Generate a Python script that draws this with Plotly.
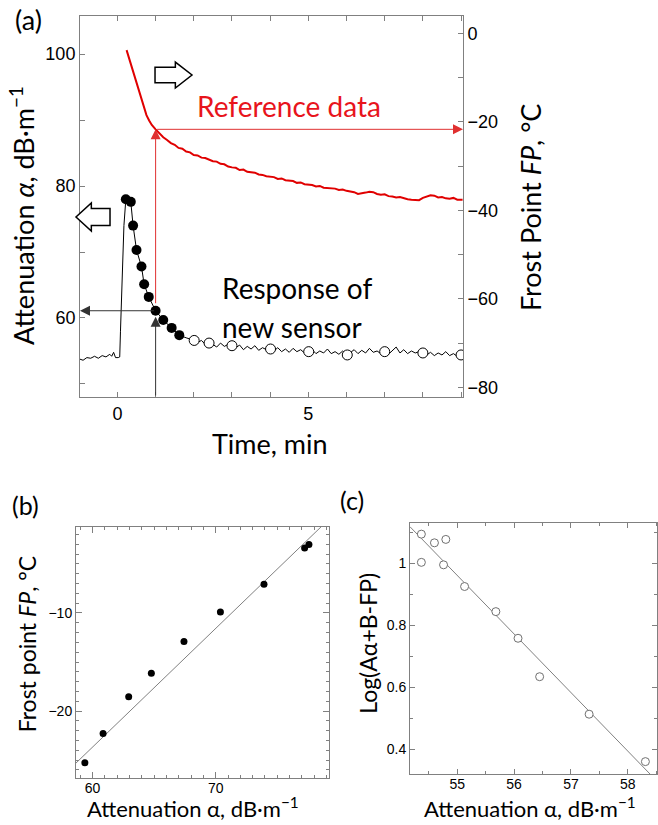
import plotly.graph_objects as go

# ---- (a) response of the new sensor vs reference, over time ----
t_ref = [0.24, 0.30, 0.37, 0.44, 0.50, 0.57, 0.63, 0.70, 0.76, 0.83, 0.90, 1.00,
         1.10, 1.20, 1.30, 1.40, 1.50, 1.60, 1.70, 1.80, 1.90, 2.00, 2.10, 2.20,
         2.30, 2.40, 2.50, 2.60, 2.70, 2.80, 2.90, 3.00, 3.10, 3.20, 3.30, 3.40,
         3.50, 3.60, 3.70, 3.80, 3.90, 4.00, 4.10, 4.20, 4.30, 4.40, 4.50, 4.60,
         4.70, 4.80, 4.90, 5.00, 5.10, 5.20, 5.30, 5.40, 5.50, 5.60, 5.70, 5.80,
         5.90, 6.00, 6.10, 6.20, 6.30, 6.40, 6.50, 6.60, 6.70, 6.80, 6.90, 7.00,
         7.10, 7.20, 7.30, 7.40, 7.50, 7.60, 7.70, 7.80, 7.90, 8.00, 8.10, 8.20,
         8.30, 8.40, 8.50, 8.60, 8.70, 8.80, 8.90, 9.00, 9.04]
fp_ref = [-3.8, -5.5, -7.5, -9.6, -11.3, -13.2, -15.1, -16.9, -18.5, -19.7, -20.7, -21.7,
          -22.6, -23.5, -24.1, -24.8, -25.2, -25.9, -26.1, -26.7, -26.9, -27.5, -27.6, -28.1,
          -28.2, -28.6, -28.9, -29.0, -29.5, -29.6, -30.1, -30.3, -30.4, -30.9, -30.8, -31.3,
          -31.4, -31.5, -31.9, -32.0, -32.3, -32.4, -32.5, -32.9, -32.8, -33.2, -33.3, -33.4,
          -33.8, -33.7, -34.1, -34.2, -34.3, -34.6, -34.5, -34.9, -35.0, -35.0, -35.1, -35.4,
          -35.3, -35.6, -35.8, -35.9, -36.3, -36.2, -36.0, -35.8, -35.9, -36.3, -36.5, -36.4,
          -36.8, -36.9, -37.1, -37.0, -37.3, -37.5, -37.6, -37.7, -37.7, -37.2, -36.9, -36.6,
          -36.7, -37.1, -37.0, -37.3, -37.4, -37.2, -37.6, -37.5, -37.6]

t_att = [-1.00, -0.90, -0.80, -0.70, -0.60, -0.50, -0.40, -0.30, -0.20, -0.15, -0.10, -0.05,
         0.02, 0.06, 0.08, 0.12, 0.17, 0.22, 0.30, 0.35, 0.41, 0.50, 0.63, 0.70, 0.82,
         1.00, 1.20, 1.42, 1.62, 1.80, 2.01, 2.10, 2.20, 2.30, 2.40, 2.50, 2.60, 2.70,
         2.80, 2.90, 3.00, 3.10, 3.20, 3.30, 3.40, 3.50, 3.60, 3.70, 3.80, 3.90, 4.01,
         4.10, 4.20, 4.30, 4.40, 4.50, 4.60, 4.70, 4.80, 4.90, 5.01, 5.10, 5.20, 5.30,
         5.40, 5.50, 5.60, 5.70, 5.80, 5.90, 6.02, 6.10, 6.20, 6.30, 6.40, 6.50, 6.60,
         6.70, 6.80, 6.90, 7.00, 7.10, 7.20, 7.30, 7.40, 7.50, 7.60, 7.70, 7.80, 7.90,
         8.00, 8.10, 8.20, 8.30, 8.40, 8.50, 8.60, 8.70, 8.80, 8.90, 9.00]
att = [53.8, 53.6, 54.0, 53.9, 54.2, 53.9, 54.3, 54.1, 54.5, 54.2, 54.8, 54.0,
       54.0, 54.1, 58.0, 66.0, 74.0, 78.0, 77.8, 77.6, 74.0, 70.3, 67.8, 65.1, 63.2,
       61.1, 59.7, 58.5, 57.4, 57.0, 56.6, 56.3, 56.6, 56.0, 56.2, 56.0, 55.6, 56.2,
       55.7, 56.0, 55.8, 55.5, 55.9, 55.2, 55.7, 55.3, 55.8, 55.1, 55.5, 55.2, 55.3,
       55.0, 55.5, 54.9, 55.3, 54.8, 55.4, 54.9, 55.2, 54.7, 54.9, 55.2, 54.6, 55.0,
       54.7, 55.3, 54.6, 54.9, 54.5, 55.0, 54.4, 54.8, 55.2, 54.6, 55.1, 54.7, 55.4,
       54.8, 55.0, 54.6, 54.9, 54.5, 55.1, 55.6, 54.7, 55.2, 54.6, 55.0, 54.7, 54.9,
       54.7, 54.4, 54.8, 54.3, 54.7, 54.4, 54.9, 54.3, 54.6, 54.2, 54.4]

t_fill = [0.22, 0.35, 0.41, 0.50, 0.63, 0.70, 0.82, 1.00, 1.20, 1.42, 1.62]
att_fill = [78.0, 77.6, 74.0, 70.3, 67.8, 65.1, 63.2, 61.1, 59.7, 58.5, 57.4]
t_open = [2.01, 2.40, 3.00, 4.01, 5.01, 6.02, 7.00, 8.00, 9.00]
att_open = [56.6, 56.2, 55.8, 55.3, 54.9, 54.4, 54.9, 54.7, 54.4]

t_probe = 1.0

# ---- (b) calibration ----
att_b = [59.37, 60.85, 62.93, 64.77, 67.42, 70.38, 73.92, 77.22, 77.57]
fp_b = [-25.27, -22.3, -18.53, -16.15, -12.92, -9.9, -7.07, -3.37, -3.02]
fit_b = (1.21, -96.27)   # slope, intercept

# ---- (c) log plot ----
att_c = [54.37, 54.37, 54.60, 54.80, 54.76, 55.13, 55.68, 56.07, 56.45, 57.32, 58.31]
log_c = [1.094, 1.003, 1.066, 1.077, 0.995, 0.925, 0.844, 0.758, 0.634, 0.513, 0.360]
fit_c = (-0.189, 11.356)
c_ticks = [0.4, 0.6, 0.8, 1.0]
c_ticktext = ['0.4', '0.6', '0.8', '1']

# axis ranges
XA = [-0.98, 9.05]
YA = [48.03, 105.76]
YA2 = [-82.19, 3.91]
XB = [58.65, 79.2]
YB = [-26.8, -1.2]
XC = [54.17, 58.52]
YC = [0.32, 1.129]

W, H = 658, 825
GRAY = '#808080'
TICKFONT = 'Liberation Sans'
TEXTFONT = 'Lato'


def fp_of(a):
    return YA2[0] + (a - YA[0]) * (YA2[1] - YA2[0]) / (YA[1] - YA[0])


alpha_probe = att_fill[t_fill.index(t_probe)]
fp_probe = fp_ref[t_ref.index(t_probe)]

fig = go.Figure()

fig.add_trace(go.Scatter(x=t_ref, y=fp_ref, mode='lines', yaxis='y2',
                         line=dict(color='#e00000', width=2)))
fig.add_trace(go.Scatter(x=t_att, y=att, mode='lines',
                         line=dict(color='black', width=1)))
fig.add_trace(go.Scatter(x=t_fill, y=att_fill, mode='markers',
                         marker=dict(color='black', size=10)))
fig.add_trace(go.Scatter(x=t_open, y=att_open, mode='markers',
                         marker=dict(color='white', size=10, line=dict(color='black', width=1))))

fig.add_trace(go.Scatter(x=XB, y=[fit_b[0] * v + fit_b[1] for v in XB], mode='lines',
                         xaxis='x2', yaxis='y3', line=dict(color=GRAY, width=1)))
fig.add_trace(go.Scatter(x=att_b, y=fp_b, mode='markers', xaxis='x2', yaxis='y3',
                         marker=dict(color='black', size=7)))

fig.add_trace(go.Scatter(x=XC, y=[fit_c[0] * v + fit_c[1] for v in XC], mode='lines',
                         xaxis='x3', yaxis='y4', line=dict(color=GRAY, width=1)))
fig.add_trace(go.Scatter(x=att_c, y=log_c, mode='markers', xaxis='x3', yaxis='y4',
                         marker=dict(color='white', size=8, line=dict(color='#707070', width=1))))


def ax(domain, rng, anchor, tickvals, minor, ticklen=5, minorlen=5, fsize=18, **kw):
    d = dict(domain=domain, range=rng, anchor=anchor, showgrid=False, zeroline=False,
             showline=True, linecolor=GRAY, linewidth=1, ticks='inside', ticklen=ticklen,
             tickcolor=GRAY, tickvals=tickvals,
             minor=dict(dtick=minor, ticks='inside', ticklen=minorlen, tickcolor=GRAY),
             tickfont=dict(family=TICKFONT, size=fsize, color='black'))
    d.update(kw)
    return d


fig.update_layout(
    width=W, height=H, margin=dict(l=0, r=0, t=0, b=0),
    paper_bgcolor='white', plot_bgcolor='white', showlegend=False,
    xaxis=ax([0.1216, 0.7036], XA, 'y', [0, 5], 1, mirror='ticks'),
    yaxis=ax([0.5188, 0.9806], YA, 'x', [60, 80, 100], 10),
    yaxis2=ax([0.5188, 0.9806], YA2, 'x', [0, -20, -40, -60, -80], 10,
              overlaying='y', side='right'),
    xaxis2=ax([0.1155, 0.5], XB, 'y3', [60, 70], 1, ticklen=6, minorlen=3, fsize=14,
              mirror='ticks', ticklabelstandoff=-3),
    yaxis3=ax([0.0573, 0.3616], YB, 'x2', [-10, -20], 1, ticklen=6, minorlen=3, fsize=14,
              mirror='ticks'),
    xaxis3=ax([0.6231, 0.999], XC, 'y4', [55, 56, 57, 58], 0.5, ticklen=5, minorlen=3,
              fsize=14, mirror='ticks', ticklabelstandoff=-3),
    yaxis4=ax([0.0618, 0.3657], YC, 'x3', c_ticks, 0.1, ticklen=5, minorlen=3,
              fsize=14, mirror='ticks', ticktext=c_ticktext),
)

ann = []
# probe arrows in (a)
arrow = dict(text='', showarrow=True, arrowhead=2, arrowsize=2, arrowwidth=1,
             axref='x', xref='x')
ann.append(dict(arrow, x=t_probe, y=alpha_probe, yref='y', ax=t_probe, ay=YA[0],
                ayref='y', arrowcolor='#333333', standoff=6))
ann.append(dict(arrow, x=XA[0], y=alpha_probe, yref='y', ax=t_probe, ay=alpha_probe,
                ayref='y', arrowcolor='#333333'))
ann.append(dict(arrow, x=t_probe, y=fp_probe, yref='y2', ax=t_probe, ay=fp_of(alpha_probe),
                ayref='y2', arrowcolor='#e03030', startstandoff=6))
ann.append(dict(arrow, x=XA[1], y=fp_probe, yref='y2', ax=t_probe, ay=fp_probe,
                ayref='y2', arrowcolor='#e03030'))

# texts in (a)
ann.append(dict(x=2.03, y=-16.4, xref='x', yref='y2', text='Reference data', showarrow=False,
                xanchor='left', yanchor='middle',
                font=dict(family=TEXTFONT, size=28, color='#e8141c')))
ann.append(dict(x=2.68, y=64.55, xref='x', yref='y', text='Response of', showarrow=False,
                xanchor='left', yanchor='middle', font=dict(family=TEXTFONT, size=28, color='black')))
ann.append(dict(x=2.68, y=58.64, xref='x', yref='y', text='new sensor', showarrow=False,
                xanchor='left', yanchor='middle', font=dict(family=TEXTFONT, size=28, color='black')))


# hollow block arrows telling which axis each curve uses (pixel box -> paper path)
def block_arrow(x0, x1, yc, h, direction):
    L = x1 - x0
    head = 0.45 * L
    th = 0.3 * h
    if direction == 'right':
        pts = [(x0, yc - th), (x1 - head, yc - th), (x1 - head, yc - h / 2), (x1, yc),
               (x1 - head, yc + h / 2), (x1 - head, yc + th), (x0, yc + th)]
    else:
        pts = [(x1, yc - th), (x0 + head, yc - th), (x0 + head, yc - h / 2), (x0, yc),
               (x0 + head, yc + h / 2), (x0 + head, yc + th), (x1, yc + th)]
    path = 'M ' + ' L '.join('%.4f,%.4f' % (px / W, 1 - py / H) for px, py in pts) + ' Z'
    return dict(type='path', xref='paper', yref='paper', path=path,
                fillcolor='white', line=dict(color='black', width=1.5), layer='above')


fig.update_layout(shapes=[block_arrow(155, 192, 75, 26, 'right'),
                          block_arrow(76, 110, 217, 28, 'left')])


# panel labels and axis titles
def ptext(x, y, text, size, angle=0):
    return dict(x=x, y=y, xref='paper', yref='paper', text=text, showarrow=False,
                textangle=angle, xanchor='center', yanchor='middle',
                font=dict(family=TEXTFONT, size=size, color='black'))


ann += [
    ptext(0.044, 0.9758, '(a)', 27),
    ptext(0.038, 0.388, '(b)', 25),
    ptext(0.535, 0.394, '(c)', 25),
    ptext(0.0334, 0.7394, 'Attenuation <i>α</i>, dB·m<sup>−1</sup>', 27, -90),
    ptext(0.8055, 0.749, 'Frost Point <i>FP</i>, °C', 27, -90),
    ptext(0.410, 0.463, 'Time, min', 27),
    ptext(0.041, 0.219, 'Frost point <i>FP</i>, °C', 23, -90),
    ptext(0.293, 1 - 807 / H, 'Attenuation α, dB·m<sup>−1</sup>', 22),
    ptext(0.559, 0.2206, 'Log(Aα+B-FP)', 23, -90),
    ptext(0.8055, 1 - 807 / H, 'Attenuation α, dB·m<sup>−1</sup>', 22),
]
fig.update_layout(annotations=ann)

# the page body would otherwise add an 8px margin around the figure
fig.write_html("out.html", config={'displayModeBar': False},
               post_script="document.body.style.margin='0px';")
